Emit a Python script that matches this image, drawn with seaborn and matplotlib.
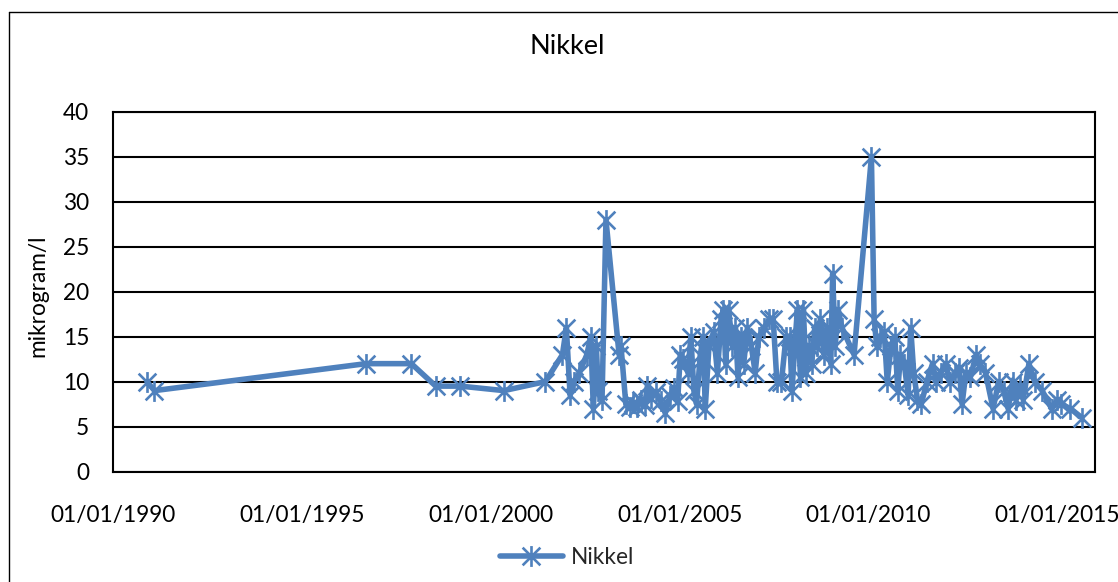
import matplotlib
matplotlib.use("Agg")
import matplotlib.pyplot as plt
import matplotlib.dates as mdates
from matplotlib.lines import Line2D
from matplotlib.path import Path
import seaborn as sns
import pandas as pd

dates = [
    "1990-11-25", "1991-02-06", "1996-09-12", "1997-11-25", "1998-07-19", "1999-03-15",
    "2000-05-08", "2001-06-13", "2001-11-25", "2002-01-02", "2002-02-07", "2002-03-15",
    "2002-05-08", "2002-07-19", "2002-08-26", "2002-09-20", "2002-10-19", "2002-11-06",
    "2002-12-13", "2003-01-20", "2003-05-27", "2003-06-14", "2003-07-31", "2003-09-06",
    "2003-10-12", "2003-11-18", "2003-12-24", "2004-01-30", "2004-02-25", "2004-04-01",
    "2004-05-19", "2004-07-01", "2004-08-15", "2004-10-01", "2004-11-07", "2004-12-13",
    "2005-01-08", "2005-02-06", "2005-03-22", "2005-04-20", "2005-05-19", "2005-06-14",
    "2005-07-20", "2005-08-18", "2005-09-06", "2005-10-12", "2005-11-25", "2006-01-02",
    "2006-02-06", "2006-03-01", "2006-03-23", "2006-04-20", "2006-05-27", "2006-06-25",
    "2006-07-20", "2006-08-15", "2006-09-13", "2006-10-19", "2006-11-25", "2007-01-02",
    "2007-02-06", "2007-04-02", "2007-05-19", "2007-06-25", "2007-07-31", "2007-09-13",
    "2007-10-27", "2007-12-02", "2007-12-24", "2008-01-20", "2008-02-14", "2008-03-15",
    "2008-04-12", "2008-05-08", "2008-06-03", "2008-07-02", "2008-07-31", "2008-08-26",
    "2008-09-24", "2008-10-27", "2008-11-25", "2009-01-02", "2009-01-20", "2009-02-14",
    "2009-03-15", "2009-04-20", "2009-08-15", "2010-01-30", "2010-02-25", "2010-03-22",
    "2010-04-20", "2010-06-03", "2010-07-02", "2010-08-08", "2010-09-13", "2010-10-12",
    "2010-11-07", "2010-12-13", "2011-01-20", "2011-02-14", "2011-03-15", "2011-04-20",
    "2011-05-27", "2011-07-20", "2011-09-13", "2011-10-19", "2011-12-02", "2012-01-20",
    "2012-02-25", "2012-04-20", "2012-05-27", "2012-06-25", "2012-07-31", "2012-09-13",
    "2012-11-07", "2012-12-13", "2013-02-06", "2013-04-20", "2013-06-14", "2013-07-31",
    "2013-09-13", "2013-10-27", "2013-11-25", "2014-01-02", "2014-02-06", "2014-04-02",
    "2014-05-27", "2014-08-08", "2014-11-07", "2015-01-02", "2015-02-06", "2015-05-08",
    "2015-08-26",
]
nikkel = [
    10, 9, 12, 12, 9.5, 9.5,
    9, 10, 13, 16, 8.5, 10,
    11, 13, 15, 7, 14, 9,
    8, 28, 13, 14, 7.5, 7.2,
    7.6, 7.2, 8, 7.4, 9.5, 8.2,
    8.8, 7.8, 6.5, 8.4, 9.3, 7.8,
    13, 12.5, 11, 15, 9, 7.5,
    13, 15, 7, 14, 15.5, 11,
    17, 18, 12, 18, 14, 16,
    10.5, 15, 12, 16, 14, 11,
    15, 16, 17, 17, 10, 10,
    15, 15, 9, 14, 18, 10.5,
    18, 11, 14, 12, 16, 14,
    17, 13, 16, 12, 22, 14,
    18, 16, 13, 35, 17, 14,
    15, 15.5, 10, 14, 15, 9,
    13, 12, 8.5, 16, 11, 8,
    7.5, 10, 12, 10, 11, 12,
    10, 11, 11.5, 7.5, 11, 10.5,
    13, 12, 11, 7, 10, 9,
    7, 10, 8, 9.5, 8, 12,
    10, 9, 7, 8, 7.5, 7,
    6,
]
series_name = "Nikkel"
title = "Nikkel"
y_label = "mikrogram/l"
y_ticks = [0, 5, 10, 15, 20, 25, 30, 35, 40]
x_tick_dates = ["1990-01-01", "1995-01-01", "2000-01-01", "2005-01-01", "2010-01-01", "2015-01-01"]

df = pd.DataFrame({"date": pd.to_datetime(dates), "value": nikkel})

sns.set_style("white")
plt.rcParams["font.family"] = ["Lato", "DejaVu Sans"]

# Excel-style star marker: an X plus a vertical bar
star_marker = Path(
    [(0, -1), (0, 1), (-0.85, -0.85), (0.85, 0.85), (-0.85, 0.85), (0.85, -0.85)],
    [Path.MOVETO, Path.LINETO, Path.MOVETO, Path.LINETO, Path.MOVETO, Path.LINETO],
)

W, H = 1118, 582
fig = plt.figure(figsize=(W / 100, H / 100), dpi=100)
ax = fig.add_axes([113 / W, 1 - 471.5 / H, (1095 - 113) / W, (471.5 - 112) / H])

color = "#4F81BD"
line_kw = dict(color=color, linewidth=4.0, marker=star_marker, markersize=15,
               markeredgewidth=1.9, markeredgecolor=color, markerfacecolor="none")
sns.lineplot(data=df, x="date", y="value", ax=ax, label=series_name, sort=False, **line_kw)

ax.set_xlim(pd.Timestamp("1990-01-01"), pd.Timestamp("2016-01-01"))
ax.set_ylim(0, 40)
ax.set_yticks(y_ticks)
ax.set_xticks(pd.to_datetime(x_tick_dates))
ax.xaxis.set_major_formatter(mdates.DateFormatter("%d/%m/%Y"))
ax.yaxis.grid(True, color="black", linewidth=1.5)
ax.xaxis.grid(False)
ax.set_axisbelow(True)
for s in ax.spines.values():
    s.set_color("black")
    s.set_linewidth(1.5)
ax.tick_params(axis="both", which="both", direction="out", length=6, width=1.4,
               color="black", labelsize=16.3, labelcolor="black")
ax.tick_params(axis="x", pad=18)
ax.tick_params(axis="y", pad=11)
ax.set_xlabel("")
ax.set_ylabel("")

leg = ax.get_legend()
if leg is not None:
    leg.remove()
fig.legend(handles=[Line2D([0], [0], **line_kw)],
           labels=[series_name], loc="center", bbox_to_anchor=(567 / W, 1 - 557 / H),
           frameon=False, fontsize=16.3, handlelength=2.8, handletextpad=0.35)

fig.text(567 / W, 1 - 46 / H, title, ha="center", va="center", fontsize=19.5, color="black")
fig.text(38 / W, 1 - 296 / H, y_label, ha="center", va="center", rotation=90,
         fontsize=16.3, color="black")

# chart-area border (left and top edges visible)
fig.add_artist(Line2D([9 / W, 9 / W], [0, 1 - 12 / H], color="black", linewidth=1.0,
                      transform=fig.transFigure))
fig.add_artist(Line2D([9 / W, 1], [1 - 12 / H, 1 - 12 / H], color="black", linewidth=1.0,
                      transform=fig.transFigure))

fig.savefig("out.png", dpi=100, facecolor="white")
